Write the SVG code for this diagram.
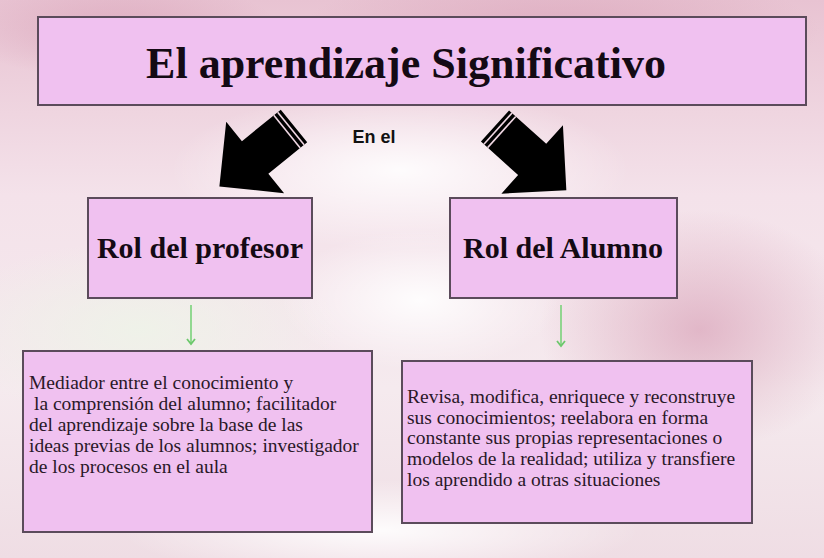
<svg xmlns="http://www.w3.org/2000/svg" width="824" height="558" viewBox="0 0 824 558">
<defs>
<linearGradient id="bg" x1="0" y1="0" x2="0" y2="1">
<stop offset="0" stop-color="#e8c3d2"/>
<stop offset="0.35" stop-color="#f4e2ea"/>
<stop offset="0.7" stop-color="#f5eaee"/>
<stop offset="1" stop-color="#efdde4"/>
</linearGradient>
<radialGradient id="wc" cx="0.5" cy="0.5" r="0.5">
<stop offset="0" stop-color="#ffffff" stop-opacity="0.9"/>
<stop offset="1" stop-color="#ffffff" stop-opacity="0"/>
</radialGradient>
<radialGradient id="pc" cx="0.5" cy="0.5" r="0.5">
<stop offset="0" stop-color="#d9a2b8" stop-opacity="0.7"/>
<stop offset="1" stop-color="#d9a2b8" stop-opacity="0"/>
</radialGradient>
<radialGradient id="gc" cx="0.5" cy="0.5" r="0.5">
<stop offset="0" stop-color="#eef3e8" stop-opacity="0.9"/>
<stop offset="1" stop-color="#eef3e8" stop-opacity="0"/>
</radialGradient>
<marker id="gh" viewBox="0 0 10 10" refX="8" refY="5" markerWidth="10" markerHeight="10" markerUnits="userSpaceOnUse" orient="auto">
<path d="M3,1 L8,5 L3,9" fill="none" stroke="#6cc86c" stroke-width="1.8"/>
</marker>
</defs>
<style>
.box{fill:#f0c1f0;stroke:#5b4b5b;stroke-width:2}
.title{font-family:"Liberation Serif","Times New Roman",serif;font-weight:bold;fill:#140a14}
.body{font-family:"Liberation Serif","Times New Roman",serif;font-size:19.5px;fill:#2a1828}
.conn{stroke:#7ad27a;stroke-width:1.6;fill:none}
.big{fill:#000000}
.stripe{stroke:#efd6e2;stroke-width:1.6}
</style>
<rect x="0" y="0" width="824" height="558" fill="url(#bg)"/>
<ellipse cx="560" cy="30" rx="260" ry="60" fill="url(#pc)"/>
<ellipse cx="120" cy="30" rx="160" ry="50" fill="url(#pc)"/>
<ellipse cx="700" cy="330" rx="160" ry="120" fill="url(#pc)"/>
<ellipse cx="400" cy="170" rx="230" ry="80" fill="url(#wc)"/>
<ellipse cx="140" cy="330" rx="200" ry="90" fill="url(#gc)"/>
<ellipse cx="420" cy="300" rx="140" ry="70" fill="url(#wc)"/>
<ellipse cx="380" cy="530" rx="260" ry="50" fill="url(#wc)"/>

<g id="title">
<rect class="box" x="38" y="17" width="768" height="88"/>
<text class="title" x="406" y="78" font-size="44" text-anchor="middle">El aprendizaje Significativo</text>
</g>

<g id="en-el">
<text x="374" y="143" font-family="Liberation Sans, Arial, sans-serif" font-weight="bold" font-size="18" fill="#111" text-anchor="middle">En el</text>
</g>

<g id="connectors">
<g transform="translate(294,126) rotate(141)">
<polygon class="big" points="0,-21 50,-21 50,-46 96,0 50,46 50,21 0,21"/>
<line class="stripe" x1="4" y1="-21" x2="4" y2="21"/>
<line class="stripe" x1="9" y1="-21" x2="9" y2="21"/>
</g>
<g transform="translate(495,126) rotate(42)">
<polygon class="big" points="0,-21 50,-21 50,-46 96,0 50,46 50,21 0,21"/>
<line class="stripe" x1="4" y1="-21" x2="4" y2="21"/>
<line class="stripe" x1="9" y1="-21" x2="9" y2="21"/>
</g>
<line class="conn" x1="191" y1="305" x2="191" y2="344" marker-end="url(#gh)"/>
<line class="conn" x1="561" y1="305" x2="561" y2="346" marker-end="url(#gh)"/>
</g>

<g id="rol-profesor">
<rect class="box" x="88" y="198" width="224" height="100"/>
<text class="title" x="200" y="258" font-size="30" text-anchor="middle">Rol del profesor</text>
</g>

<g id="rol-alumno">
<rect class="box" x="450" y="198" width="227" height="100"/>
<text class="title" x="563" y="258" font-size="30" text-anchor="middle">Rol del Alumno</text>
</g>

<g id="desc-profesor">
<rect class="box" x="23" y="351" width="349" height="181"/>
<text class="body">
<tspan x="29" y="389">Mediador entre el conocimiento y</tspan>
<tspan x="34" y="410">la comprensión del alumno; facilitador</tspan>
<tspan x="29" y="431">del aprendizaje sobre la base de las</tspan>
<tspan x="29" y="452">ideas previas de los alumnos; investigador</tspan>
<tspan x="29" y="473">de los procesos en el aula</tspan>
</text>
</g>

<g id="desc-alumno">
<rect class="box" x="402" y="361" width="350" height="162"/>
<text class="body">
<tspan x="407" y="403">Revisa, modifica, enriquece y reconstruye</tspan>
<tspan x="407" y="424">sus conocimientos; reelabora en forma</tspan>
<tspan x="407" y="444">constante sus propias representaciones o</tspan>
<tspan x="407" y="465">modelos de la realidad; utiliza y transfiere</tspan>
<tspan x="407" y="486">los aprendido a otras situaciones</tspan>
</text>
</g>
</svg>
